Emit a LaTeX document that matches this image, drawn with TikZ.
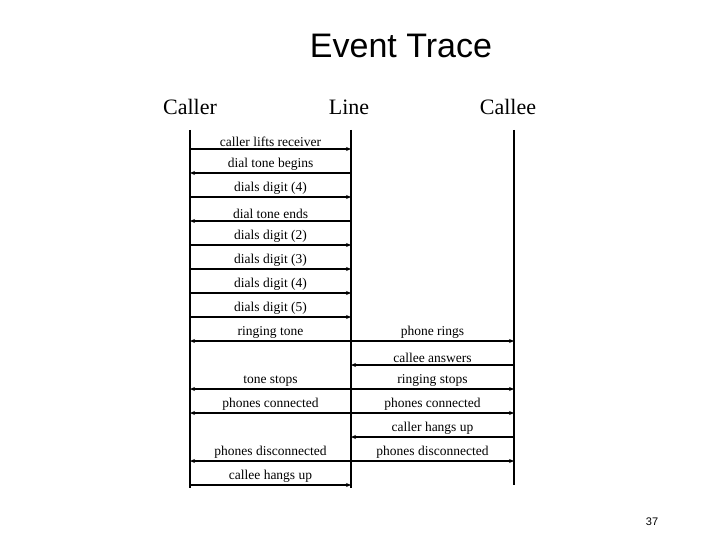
\documentclass[tikz,border=0pt]{standalone}
\usepackage{fontspec}
\setmainfont{Liberation Serif}
\newfontfamily\titlefont{Liberation Sans}
\usetikzlibrary{arrows.meta}
\begin{document}
\begin{tikzpicture}[x=1pt,y=-1pt,
  life/.style={line width=1.6pt},
  msg/.style={line width=1.3pt,-{Stealth[length=5pt,width=4pt]}},
  lbl/.style={above,inner sep=1.5pt,font=\fontsize{13.5}{14}\selectfont},
  head/.style={font=\fontsize{22}{24}\selectfont}]
\useasboundingbox (0,0) rectangle (720,540);
\node[font=\titlefont\fontsize{34}{36}\selectfont] (title) at (401,46) {Event Trace};
\node[head] (hcaller) at (190,107) {Caller};
\node[head] (hline) at (349,107) {Line};
\node[head] (hcallee) at (508,107) {Callee};
\node[font=\titlefont\fontsize{11}{12}\selectfont] (pg) at (652,522) {37};
\foreach \n/\x/\b in {A/190/488,L/351/488,C/514/485}{
  \coordinate (\n top) at (\x,130);
  \coordinate (\n bot) at (\x,\b);
  \draw[life] (\n top) -- (\n bot);
  \foreach \i in {1,...,15}{\coordinate (\n\i) at (\x,125+24*\i);}
}
\draw[msg] (A1) -- node[lbl]{caller lifts receiver} (L1);
\draw[msg] (L2) -- node[lbl]{dial tone begins} (A2);
\draw[msg] (A3) -- node[lbl]{dials digit (4)} (L3);
\draw[msg] (L4) -- node[lbl]{dial tone ends} (A4);
\draw[msg] (A5) -- node[lbl]{dials digit (2)} (L5);
\draw[msg] (A6) -- node[lbl]{dials digit (3)} (L6);
\draw[msg] (A7) -- node[lbl]{dials digit (4)} (L7);
\draw[msg] (A8) -- node[lbl]{dials digit (5)} (L8);
\draw[msg] (L9) -- node[lbl]{ringing tone} (A9);
\draw[msg] (L9) -- node[lbl]{phone rings} (C9);
\draw[msg] (C10) -- node[lbl]{callee answers} (L10);
\draw[msg] (L11) -- node[lbl]{tone stops} (A11);
\draw[msg] (L11) -- node[lbl]{ringing stops} (C11);
\draw[msg] (L12) -- node[lbl]{phones connected} (A12);
\draw[msg] (L12) -- node[lbl]{phones connected} (C12);
\draw[msg] (C13) -- node[lbl]{caller hangs up} (L13);
\draw[msg] (L14) -- node[lbl]{phones disconnected} (A14);
\draw[msg] (L14) -- node[lbl]{phones disconnected} (C14);
\draw[msg] (A15) -- node[lbl]{callee hangs up} (L15);
\end{tikzpicture}
\end{document}
